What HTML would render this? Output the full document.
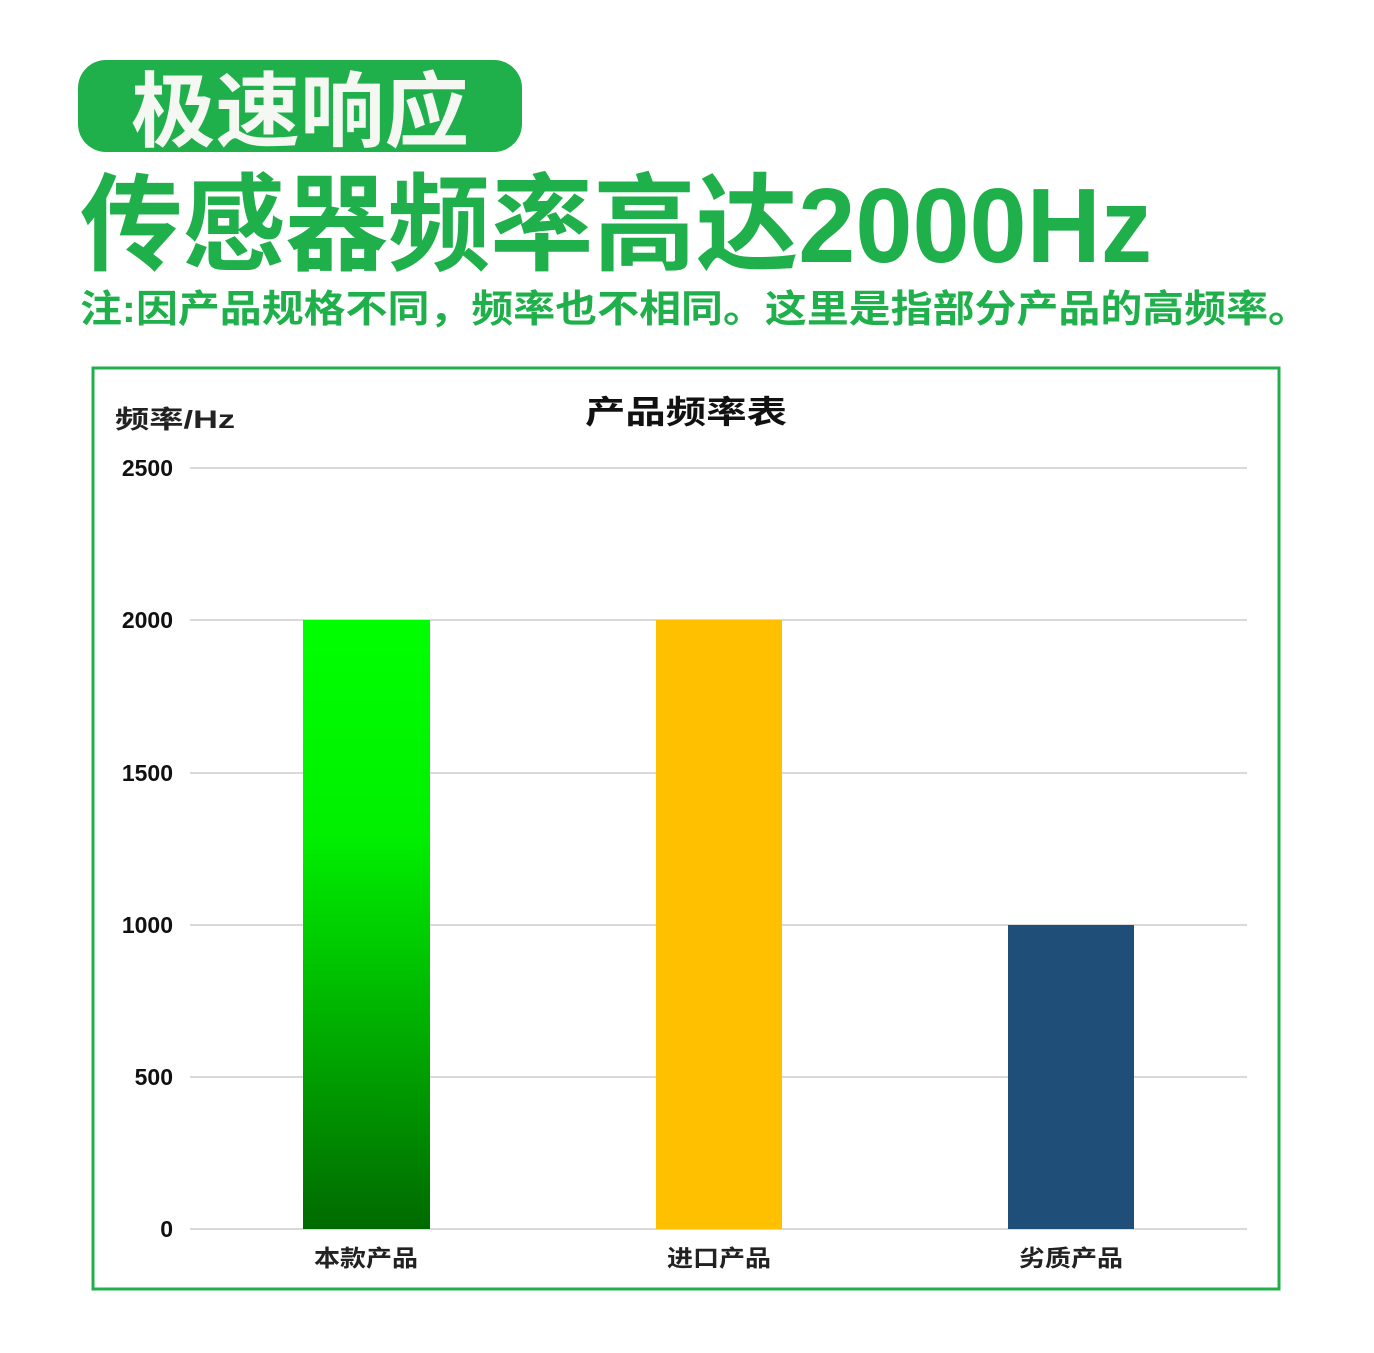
<!DOCTYPE html>
<html><head><meta charset="utf-8"><style>
body{margin:0;background:#fff;width:1374px;height:1353px;overflow:hidden}
svg{display:block}
</style></head><body>
<svg width="1374" height="1353" viewBox="0 0 1374 1353" xmlns="http://www.w3.org/2000/svg" font-family="'Liberation Sans','Noto Sans CJK SC',sans-serif">
<defs><linearGradient id="g" x1="0" y1="0" x2="0" y2="1"><stop offset="0" stop-color="#00ff00"/><stop offset="0.35" stop-color="#00f000"/><stop offset="1" stop-color="#006a00"/></linearGradient></defs>
<rect x="78" y="60" width="444" height="92" rx="28" fill="#20b04b"/>
<text x="131" y="140" font-size="82" font-weight="bold" fill="#f4f7f2" textLength="338" lengthAdjust="spacingAndGlyphs">极速响应</text>
<text x="80" y="262" font-size="106" font-weight="bold" fill="#20b04b" textLength="1072" lengthAdjust="spacingAndGlyphs">传感器频率高达2000Hz</text>
<text x="80" y="322" font-size="38" font-weight="bold" fill="#20b04b" textLength="1230" lengthAdjust="spacingAndGlyphs">注:因产品规格不同，频率也不相同。这里是指部分产品的高频率。</text>
<rect x="93" y="368" width="1186" height="921" fill="none" stroke="#20b04b" stroke-width="3"/>
<text x="585" y="423" font-size="32" font-weight="bold" fill="#111" textLength="202" lengthAdjust="spacingAndGlyphs">产品频率表</text>
<text x="115" y="428" font-size="25" font-weight="bold" fill="#222" textLength="120" lengthAdjust="spacingAndGlyphs">频率/Hz</text>
<g stroke="#d9d9d9" stroke-width="2">
<line x1="190" y1="468" x2="1247" y2="468"/><line x1="190" y1="620" x2="1247" y2="620"/><line x1="190" y1="773" x2="1247" y2="773"/><line x1="190" y1="925" x2="1247" y2="925"/><line x1="190" y1="1077" x2="1247" y2="1077"/><line x1="190" y1="1229" x2="1247" y2="1229"/>
</g>
<g font-size="23" font-weight="bold" fill="#111" text-anchor="end">
<text x="173" y="476">2500</text><text x="173" y="628">2000</text><text x="173" y="781">1500</text><text x="173" y="933">1000</text><text x="173" y="1085">500</text><text x="173" y="1237">0</text>
</g>
<rect x="303" y="620" width="127" height="609" fill="url(#g)"/>
<rect x="656" y="620" width="126" height="609" fill="#ffc000"/>
<rect x="1008" y="925" width="126" height="304" fill="#1f4e79"/>
<g font-size="23" font-weight="bold" fill="#222">
<text x="314" y="1266" textLength="104" lengthAdjust="spacingAndGlyphs">本款产品</text><text x="667" y="1266" textLength="104" lengthAdjust="spacingAndGlyphs">进口产品</text><text x="1019" y="1266" textLength="104" lengthAdjust="spacingAndGlyphs">劣质产品</text>
</g>
</svg>
</body></html>
